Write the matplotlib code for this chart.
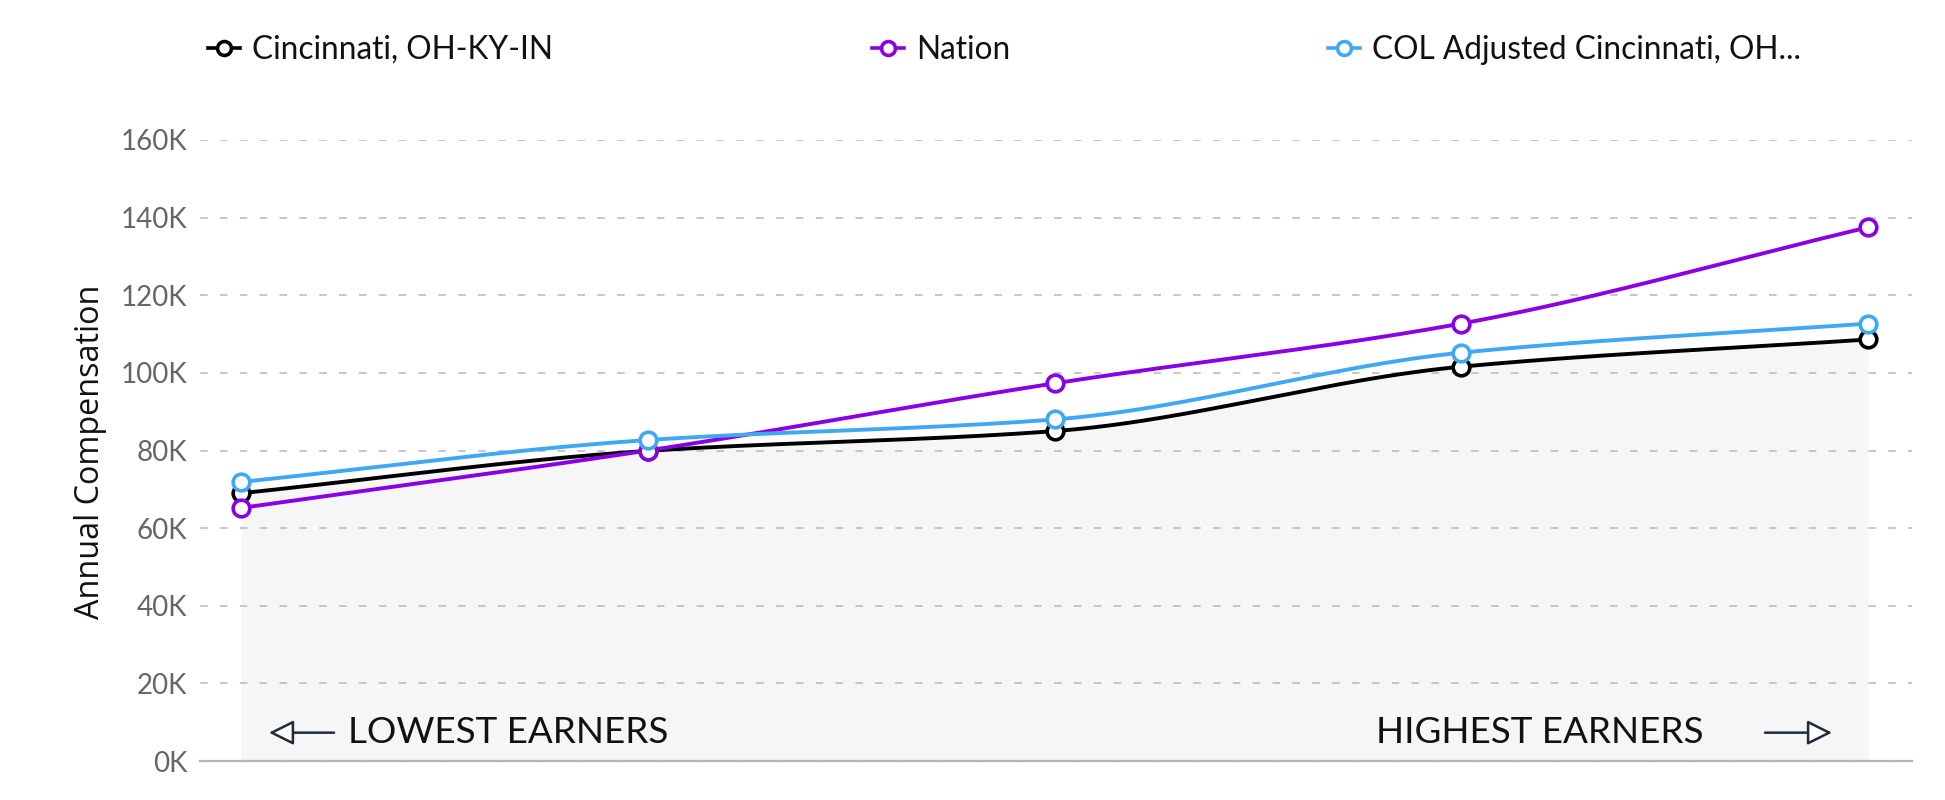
import numpy as np
import matplotlib.pyplot as plt
from matplotlib.lines import Line2D
from matplotlib.ticker import FuncFormatter, MultipleLocator

# данные
percentiles = ['10th', '25th', '50th', '75th', '90th']
cincinnati = [69000, 79900, 85000, 101600, 108600]
nation = [65200, 80000, 97300, 112700, 137500]
col_adjusted = [71900, 82700, 88000, 105200, 112700]

series_names = ['Cincinnati, OH-KY-IN', 'Nation', 'COL Adjusted Cincinnati, OH...']
series_colors = ['#000000', '#8a00e6', '#40a8f2']


def monotone(x, y, n=200):
    # монотонный кубический сплайн (Fritsch-Carlson), как сглаживание линии на графике
    x = np.asarray(x, float)
    y = np.asarray(y, float)
    h = np.diff(x)
    d = np.diff(y) / h
    m = np.zeros_like(y)
    m[0], m[-1] = d[0], d[-1]
    for i in range(1, len(y) - 1):
        if d[i - 1] * d[i] <= 0:
            m[i] = 0
        else:
            w1 = 2 * h[i] + h[i - 1]
            w2 = h[i] + 2 * h[i - 1]
            m[i] = (w1 + w2) / (w1 / d[i - 1] + w2 / d[i])
    xs, ys = [], []
    for i in range(len(x) - 1):
        t = np.linspace(0, 1, n, endpoint=(i == len(x) - 2))
        h00 = 2 * t**3 - 3 * t**2 + 1
        h10 = t**3 - 2 * t**2 + t
        h01 = -2 * t**3 + 3 * t**2
        h11 = t**3 - t**2
        xs.append(x[i] + t * h[i])
        ys.append(h00 * y[i] + h10 * h[i] * m[i] + h01 * y[i + 1] + h11 * h[i] * m[i + 1])
    return np.concatenate(xs), np.concatenate(ys)


W, H = 1945, 800
fig = plt.figure(figsize=(W / 100, H / 100), dpi=100)
ax = fig.add_axes([200 / W, 39 / H, (1912 - 200) / W, (761 - 140) / H])

xpos = np.arange(len(percentiles))
unit = (1868 - 241) / 4
ax.set_xlim(-(241 - 200) / unit, 4 + (1912 - 1868) / unit)
ax.set_ylim(0, 160000)

# серая заливка под линией Цинциннати
sx, sy = monotone(xpos, cincinnati)
ax.fill_between(sx, 0, sy, color='#f6f6f6', zorder=0, lw=0)

ax.yaxis.set_major_locator(MultipleLocator(20000))
ax.yaxis.set_major_formatter(FuncFormatter(lambda v, p: f'{int(v / 1000)}K'))
ax.grid(axis='y', color='#b8b8b8', linestyle=(0, (5, 8)), linewidth=1.1, zorder=1)
ax.set_axisbelow(False)
ax.set_xticks([])
ax.tick_params(axis='y', length=0, pad=9, labelsize=20, labelcolor='#666666')
for lab in ax.get_yticklabels():
    lab.set_fontfamily('Lato')
for s in ['top', 'right', 'left']:
    ax.spines[s].set_visible(False)
ax.spines['bottom'].set_color('#b5b5b5')
ax.spines['bottom'].set_linewidth(1.6)

order = [(col_adjusted, 2), (nation, 1), (cincinnati, 0)]
for vals, k in order:
    cx, cy = monotone(xpos, vals)
    ax.plot(cx, cy, color=series_colors[k], lw=2.8, zorder=3 + k * 0.1, solid_capstyle='round')
    ax.plot(xpos, vals, 'o', ms=12, mfc='white', mec=series_colors[k], mew=2.6,
            zorder=4 + k * 0.1, clip_on=False)

fig.text(91 / W, 1 - 452 / H, 'Annual Compensation', rotation=90, ha='center', va='center',
         fontsize=23.3, family='Open Sans', color='#111111')

# подписи снизу со стрелками
ty = 7300
arrow_style = dict(arrowstyle='-|>,head_length=0.8,head_width=0.4', fc='white',
                   ec='#1d2b3a', lw=1.8, shrinkA=0, shrinkB=0, mutation_scale=19)
ax.annotate('', xy=((269 - 241) / unit, ty), xytext=((334 - 241) / unit, ty),
            arrowprops=arrow_style)
ax.annotate('', xy=((1832 - 241) / unit, ty), xytext=((1765 - 241) / unit, ty),
            arrowprops=arrow_style)
ax.text((348 - 241) / unit, ty, 'LOWEST EARNERS', fontsize=26.5, family='Lato', color='#111111',
        ha='left', va='center')
ax.text((1704 - 241) / unit, ty, 'HIGHEST EARNERS', fontsize=26.5, family='Lato', color='#111111',
        ha='right', va='center')

# легенда: три отдельных элемента вверху
leg_x = [208, 872, 1328]
for i, name in enumerate(series_names):
    h = Line2D([], [], color=series_colors[i], lw=2.6, marker='o', ms=10, mfc='white',
               mec=series_colors[i], mew=2.6)
    lg = fig.legend([h], [name], loc='center left', bbox_to_anchor=(leg_x[i] / W, 1 - 50 / H),
                    frameon=False, borderpad=0, borderaxespad=0, handlelength=1.0,
                    handletextpad=0.4, prop={'family': 'Lato', 'size': 22.8})
    for t in lg.get_texts():
        t.set_color('#111111')

fig.savefig('out.png', dpi=100)
